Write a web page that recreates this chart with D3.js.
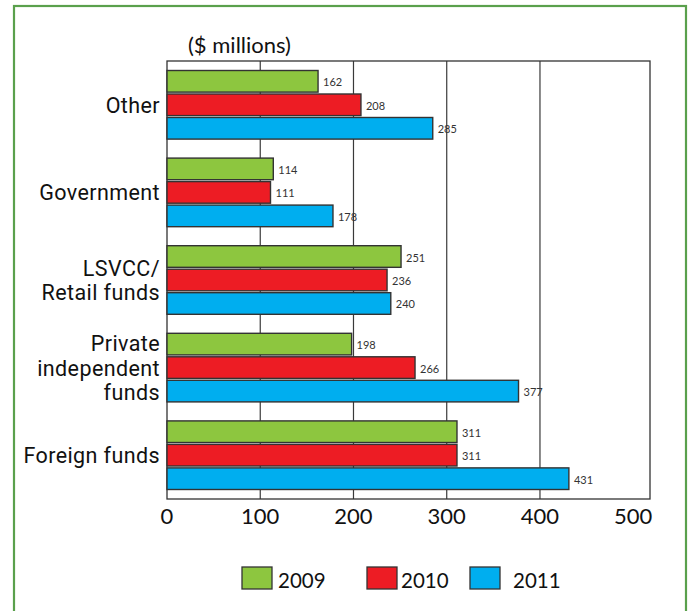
<!DOCTYPE html>
<html>
<head>
<meta charset="utf-8">
<script src="https://cdn.jsdelivr.net/npm/d3@7"></script>
<style>
  html, body { margin: 0; padding: 0; background: #fff; }
  svg { display: block; }
  text { font-family: Lato, "Open Sans", sans-serif; fill: #111; }
  text.cat { font-family: Roboto, "Open Sans", sans-serif; font-weight: 400; letter-spacing: 0.4px; }
</style>
</head>
<body>
<svg id="chart" width="690" height="611"></svg>
<script>
// Venture capital investment by source ($ millions)
const categories = ["Other", "Government", "LSVCC/\nRetail funds", "Private\nindependent\nfunds", "Foreign funds"];
const years = ["2009", "2010", "2011"];
const values2009 = [162, 114, 251, 198, 311];
const values2010 = [208, 111, 236, 266, 311];
const values2011 = [285, 178, 240, 377, 431];
const tickValues = [0, 100, 200, 300, 400, 500];
const colors = ["#8dc63f", "#ed1c24", "#00aeef"];

const seriesValues = [values2009, values2010, values2011];

const svg = d3.select("#chart");

// outer frame
svg.append("rect")
  .attr("x", 14).attr("y", 6)
  .attr("width", 672).attr("height", 620)
  .attr("fill", "#fff")
  .attr("stroke", "#5aa04c")
  .attr("stroke-width", 2.2);

const plot = { left: 167, right: 650, top: 61, bottom: 499 };

const x = d3.scaleLinear()
  .domain([0, 518])
  .range([plot.left, plot.right]);

const y = d3.scaleBand()
  .domain(categories)
  .range([plot.top, plot.bottom]);

const yInner = d3.scaleBand()
  .domain(years)
  .range([9.5, y.bandwidth() - 9.5])
  .paddingInner(0.08);

const g = svg.append("g");

// vertical gridlines
g.selectAll("line.grid")
  .data(tickValues.filter(v => v > 0 && v < 500))
  .join("line")
  .attr("class", "grid")
  .attr("x1", d => x(d)).attr("x2", d => x(d))
  .attr("y1", plot.top).attr("y2", plot.bottom)
  .attr("stroke", "#3a3a3a")
  .attr("stroke-width", 1.2);

// plot frame
g.append("rect")
  .attr("x", plot.left).attr("y", plot.top)
  .attr("width", plot.right - plot.left)
  .attr("height", plot.bottom - plot.top)
  .attr("fill", "none")
  .attr("stroke", "#333")
  .attr("stroke-width", 1.3);

// bars
const rows = [];
categories.forEach((c, i) => {
  years.forEach((yr, j) => {
    rows.push({ cat: c, year: yr, value: seriesValues[j][i], color: colors[j] });
  });
});

const bars = g.append("g");
bars.selectAll("rect")
  .data(rows)
  .join("rect")
  .attr("x", x(0))
  .attr("y", d => y(d.cat) + yInner(d.year))
  .attr("width", d => x(d.value) - x(0))
  .attr("height", yInner.bandwidth())
  .attr("fill", d => d.color)
  .attr("stroke", "#333")
  .attr("stroke-width", 1.4);

// value labels
bars.selectAll("text")
  .data(rows)
  .join("text")
  .attr("x", d => x(d.value) + 5)
  .attr("y", d => y(d.cat) + yInner(d.year) + yInner.bandwidth() / 2 + 5)
  .attr("font-size", 11)
  .style("fill", "#333")
  .text(d => d.value);

// category labels, one text element per line
const catLabels = g.append("g");
categories.forEach(c => {
  const lines = c.split("\n");
  const cy = y(c) + y.bandwidth() / 2;
  const lh = 24.5;
  lines.forEach((ln, i) => {
    catLabels.append("text")
      .attr("class", "cat")
      .attr("text-anchor", "end")
      .attr("font-size", 21.5)
      .attr("x", 160)
      .attr("y", cy + 8 + (i - (lines.length - 1) / 2) * lh)
      .text(ln);
  });
});

// x axis tick labels
g.selectAll("text.tick")
  .data(tickValues)
  .join("text")
  .attr("class", "tick")
  .attr("x", d => x(d))
  .attr("y", 524)
  .attr("text-anchor", "middle")
  .attr("font-size", 22)
  .text(d => d);

// unit title
svg.append("text")
  .attr("x", 188).attr("y", 53)
  .attr("font-size", 22)
  .text("($ millions)");

// legend
const legendX = [242, 367, 470];
const legendTextX = [278, 401, 513];
const legend = svg.append("g");
years.forEach((yr, j) => {
  legend.append("rect")
    .attr("x", legendX[j]).attr("y", 567)
    .attr("width", 30).attr("height", 22)
    .attr("fill", colors[j])
    .attr("stroke", "#333")
    .attr("stroke-width", 1.3);
  legend.append("text")
    .attr("x", legendTextX[j]).attr("y", 588)
    .attr("font-size", 20.5)
    .text(yr);
});
</script>
</body>
</html>
